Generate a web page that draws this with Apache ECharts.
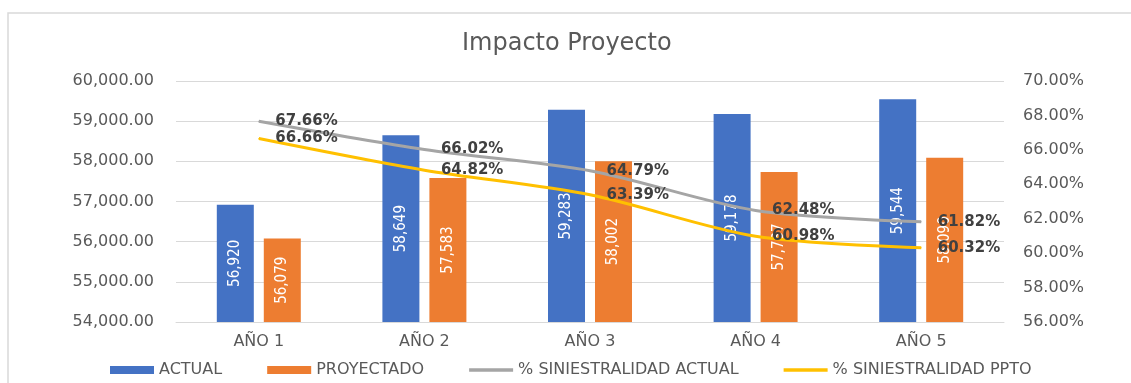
<!DOCTYPE html>
<html>
<head>
<meta charset="utf-8">
<script src="https://cdn.jsdelivr.net/npm/echarts@6/dist/echarts.min.js"></script>
<style>
  html, body { margin: 0; padding: 0; background: #fff; overflow: hidden; }
  #main { width: 1131px; height: 383px; }
</style>
</head>
<body>
<div id="main"></div>
<script>
// datos
var categorias = ['AÑO 1', 'AÑO 2', 'AÑO 3', 'AÑO 4', 'AÑO 5'];
var actual = [56920, 58649, 59283, 59178, 59544];
var proyectado = [56079, 57583, 58002, 57737, 58090];
var siniestralidadActual = [67.66, 66.02, 64.79, 62.48, 61.82];
var siniestralidadPpto = [66.66, 64.82, 63.39, 60.98, 60.32];

var gris = '#595959';
var fuente = 'DejaVu Sans';
var iconoLinea = 'path://M0,0h48v4h-48z';
var myChart = echarts.init(document.getElementById('main'));

function miles(v) {
    return v.toLocaleString('en-US');
}

function etiquetaBarra() {
    return {
        show: true,
        position: 'inside',
        rotate: 90,
        color: '#fff',
        fontSize: 15,
        fontFamily: 'DejaVu Sans Condensed',
        formatter: function (p) { return miles(p.value); }
    };
}

function etiquetaLinea() {
    return {
        show: true,
        position: 'right',
        distance: 16,
        color: '#404040',
        fontSize: 15,
        fontWeight: 'bold',
        formatter: function (p) { return p.value.toFixed(2) + '%'; }
    };
}

var option = {
    backgroundColor: '#fff',
    textStyle: { fontFamily: fuente },
    title: {
        text: 'Impacto Proyecto',
        left: 457,
        top: 27,
        textStyle: { color: gris, fontSize: 24, fontWeight: 'normal', fontFamily: fuente }
    },
    // marco del gráfico (solo arriba e izquierda son visibles)
    graphic: [{
        type: 'polyline',
        shape: { points: [[8, 400], [8, 13], [1200, 13]] },
        style: { fill: null, stroke: '#d9d9d9', lineWidth: 1.5 },
        silent: true
    }],
    legend: {
        left: 105,
        top: 357,
        itemWidth: 44,
        itemHeight: 8,
        itemGap: 45,
        textStyle: { color: gris, fontSize: 16, fontFamily: fuente },
        data: [
            { name: 'ACTUAL', icon: 'rect' },
            { name: 'PROYECTADO', icon: 'rect' },
            { name: '% SINIESTRALIDAD ACTUAL', icon: iconoLinea },
            { name: '% SINIESTRALIDAD PPTO', icon: iconoLinea }
        ]
    },
    grid: { left: 176, right: 127, top: 81, bottom: 61 },
    xAxis: {
        type: 'category',
        data: categorias,
        axisLine: { lineStyle: { color: '#d9d9d9' } },
        axisTick: { show: false },
        axisLabel: { color: gris, fontSize: 16, margin: 12 }
    },
    yAxis: [
        {
            type: 'value',
            min: 54000,
            max: 60000,
            interval: 1000,
            axisLine: { show: false },
            axisTick: { show: false },
            splitLine: { lineStyle: { color: '#d9d9d9' } },
            axisLabel: {
                color: gris, fontSize: 16, margin: 22,
                formatter: function (v) {
                    return v.toLocaleString('en-US', { minimumFractionDigits: 2, maximumFractionDigits: 2 });
                }
            }
        },
        {
            type: 'value',
            min: 56,
            max: 70,
            interval: 2,
            axisLine: { show: false },
            axisTick: { show: false },
            splitLine: { show: false },
            axisLabel: {
                color: gris, fontSize: 16, margin: 19,
                formatter: function (v) { return v.toFixed(2) + '%'; }
            }
        }
    ],
    series: [
        {
            name: 'ACTUAL',
            type: 'bar',
            data: actual,
            barWidth: 37,
            barGap: '27%',
            itemStyle: { color: '#4472c4' },
            label: etiquetaBarra()
        },
        {
            name: 'PROYECTADO',
            type: 'bar',
            data: proyectado,
            barWidth: 37,
            itemStyle: { color: '#ed7d31' },
            label: etiquetaBarra()
        },
        {
            name: '% SINIESTRALIDAD ACTUAL',
            type: 'line',
            yAxisIndex: 1,
            data: siniestralidadActual,
            smooth: 0.3,
            symbol: 'circle',
            symbolSize: 1,
            lineStyle: { color: '#a5a5a5', width: 3 },
            itemStyle: { color: '#a5a5a5' },
            label: etiquetaLinea()
        },
        {
            name: '% SINIESTRALIDAD PPTO',
            type: 'line',
            yAxisIndex: 1,
            data: siniestralidadPpto,
            smooth: 0.3,
            symbol: 'circle',
            symbolSize: 1,
            lineStyle: { color: '#ffc000', width: 3 },
            itemStyle: { color: '#ffc000' },
            label: etiquetaLinea()
        }
    ]
};
myChart.setOption(option, true);
</script>
</body>
</html>
